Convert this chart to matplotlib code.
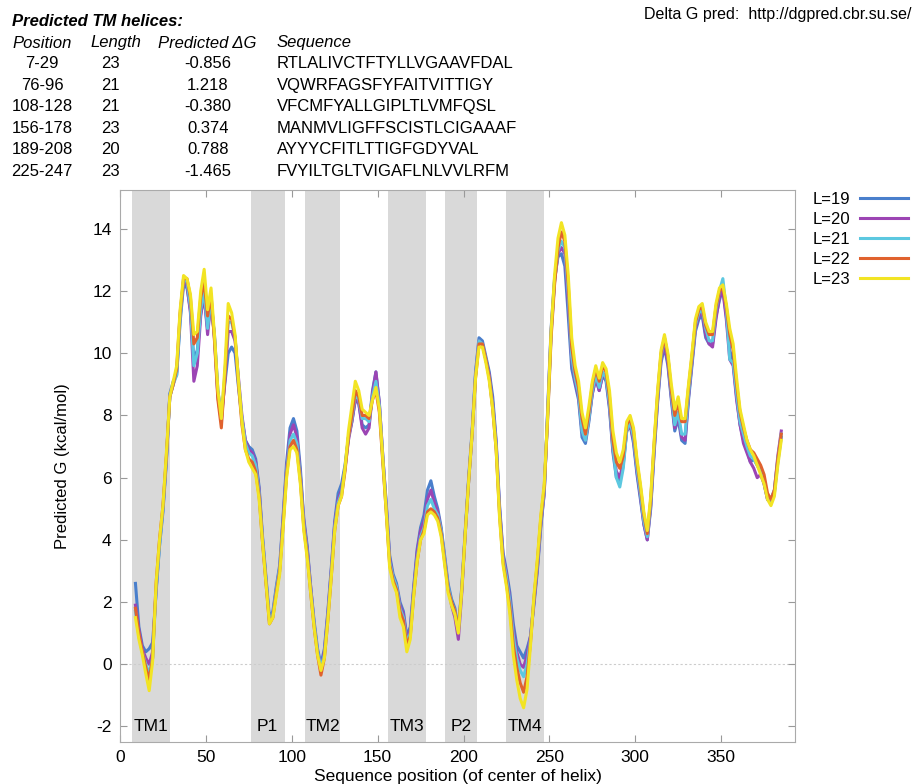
import numpy as np
import matplotlib
matplotlib.use("Agg")
import matplotlib.pyplot as plt

plt.rcParams['font.family'] = ['Liberation Sans', 'DejaVu Sans']
plt.rcParams['axes.unicode_minus'] = False

# helix table shown above the plot
positions = ["7-29", "76-96", "108-128", "156-178", "189-208", "225-247"]
lengths = ["23", "21", "21", "23", "20", "23"]
pred_dg = ["-0.856", "1.218", "-0.380", "0.374", "0.788", "-1.465"]
sequences = ["RTLALIVCTFTYLLVGAAVFDAL", "VQWRFAGSFYFAITVITTIGY", "VFCMFYALLGIPLTLVMFQSL",
             "MANMVLIGFFSCISTLCIGAAAF", "AYYYCFITLTTIGFGDYVAL", "FVYILTGLTVIGAFLNLVVLRFM"]

# shaded regions (start, end, label)
band_start = [7, 76, 108, 156, 189, 225]
band_end = [29, 96, 128, 178, 208, 247]
band_labels = ["TM1", "P1", "TM2", "TM3", "P2", "TM4"]

# sequence position of helix center
seq_pos = list(range(9, 386, 2))

g_L19 = [2.6, 1.2, 0.6, 0.4, 0.5, 0.7, 2.3, 3.8, 4.9, 6.5,
         8.7, 9.1, 9.3, 11.0, 12.2, 12.1, 11.4, 9.8, 10.1, 11.3,
         11.8, 10.8, 11.6, 10.6, 8.8, 8.0, 9.0, 10.0, 10.2, 10.0,
         8.9, 7.9, 7.2, 7.0, 6.9, 6.6, 5.7, 4.1, 2.8, 1.5,
         1.7, 2.5, 3.2, 4.8, 6.5, 7.6, 7.9, 7.5, 6.3, 4.7,
         3.8, 2.5, 1.4, 0.5, 0.0, 0.5, 1.7, 3.1, 4.6, 5.5,
         5.8, 6.4, 7.3, 7.8, 8.5, 8.4, 7.7, 7.6, 7.7, 8.8,
         9.4, 8.4, 6.7, 5.2, 3.5, 2.9, 2.6, 2.0, 1.7, 0.9,
         1.2, 2.5, 3.7, 4.4, 4.8, 5.6, 5.9, 5.4, 5.0, 4.4,
         3.5, 2.6, 2.1, 1.8, 1.1, 2.5, 4.3, 6.0, 7.5, 9.4,
         10.5, 10.4, 9.9, 9.4, 8.6, 7.2, 5.1, 3.6, 3.0, 2.3,
         1.3, 0.6, 0.4, 0.2, 0.5, 0.9, 1.9, 3.0, 4.4, 5.5,
         8.2, 10.8, 12.4, 13.1, 13.2, 12.8, 11.2, 9.5, 9.0, 8.5,
         7.3, 7.1, 7.8, 8.7, 9.2, 8.8, 9.3, 9.1, 8.2, 6.8,
         6.0, 5.9, 6.4, 7.5, 7.7, 7.1, 6.1, 5.3, 4.5, 4.0,
         5.0, 6.8, 8.4, 9.7, 10.2, 9.6, 8.5, 7.5, 7.9, 7.2,
         7.1, 8.5, 9.6, 10.7, 11.1, 11.2, 10.5, 10.3, 10.3, 11.2,
         11.7, 12.1, 11.2, 10.1, 9.7, 8.6, 7.7, 7.2, 6.9, 6.5,
         6.6, 6.4, 6.2, 5.8, 5.3, 5.2, 5.5, 6.5, 7.3]

g_L20 = [1.9, 1.1, 0.5, 0.2, 0.0, 0.4, 2.4, 3.9, 5.0, 6.6,
         8.6, 9.0, 9.4, 11.2, 12.3, 12.2, 11.3, 9.1, 9.6, 11.2,
         11.9, 10.6, 11.7, 10.5, 8.6, 7.8, 9.1, 10.7, 10.7, 10.4,
         9.2, 8.0, 7.2, 6.9, 6.8, 6.5, 5.6, 4.0, 2.7, 1.4,
         1.6, 2.4, 3.1, 4.7, 6.3, 7.4, 7.7, 7.3, 6.1, 4.6,
         3.7, 2.5, 1.3, 0.4, -0.1, 0.4, 1.6, 3.0, 4.5, 5.3,
         5.6, 6.3, 7.2, 7.8, 8.5, 8.4, 7.6, 7.4, 7.6, 8.7,
         9.4, 8.4, 6.7, 5.1, 3.4, 2.8, 2.5, 1.9, 1.6, 0.8,
         1.1, 2.4, 3.6, 4.3, 4.6, 5.3, 5.6, 5.2, 4.9, 4.3,
         3.4, 2.5, 1.9, 1.5, 0.8, 2.3, 4.2, 5.9, 7.4, 9.3,
         10.4, 10.3, 9.8, 9.3, 8.4, 7.1, 5.0, 3.5, 2.9, 2.1,
         1.1, 0.4, 0.0, -0.1, 0.3, 0.9, 2.0, 3.1, 4.5, 5.5,
         8.1, 10.7, 12.3, 13.2, 13.4, 13.2, 11.6, 9.8, 9.1, 8.6,
         7.5, 7.2, 7.9, 8.7, 9.2, 8.8, 9.3, 9.2, 8.3, 6.9,
         6.2, 6.0, 6.5, 7.5, 7.7, 7.2, 6.2, 5.4, 4.5, 4.0,
         5.1, 6.9, 8.5, 9.8, 10.3, 9.7, 8.6, 7.6, 8.0, 7.3,
         7.2, 8.6, 9.7, 10.8, 11.2, 11.3, 10.6, 10.3, 10.2, 11.1,
         11.8, 12.0, 11.1, 9.8, 9.6, 8.5, 7.7, 7.1, 6.8, 6.5,
         6.3, 6.0, 6.1, 5.8, 5.3, 5.3, 5.6, 6.7, 7.5]

g_L21 = [1.7, 0.9, 0.4, 0.0, -0.3, 0.2, 2.4, 3.8, 5.0, 6.6,
         8.6, 9.0, 9.3, 11.1, 12.4, 12.3, 11.5, 9.6, 10.0, 11.4,
         12.0, 10.8, 11.8, 10.5, 8.7, 7.9, 9.3, 11.0, 11.0, 10.5,
         9.1, 7.9, 7.1, 6.8, 6.7, 6.4, 5.5, 4.0, 2.7, 1.4,
         1.6, 2.4, 3.1, 4.6, 6.2, 7.2, 7.4, 7.1, 6.0, 4.5,
         3.6, 2.4, 1.3, 0.4, -0.1, 0.3, 1.5, 2.9, 4.4, 5.2,
         5.5, 6.3, 7.3, 7.9, 8.7, 8.5, 7.9, 7.9, 7.8, 8.6,
         9.1, 8.3, 6.6, 5.0, 3.3, 2.8, 2.5, 1.8, 1.5, 0.7,
         1.0, 2.3, 3.4, 4.1, 4.4, 5.1, 5.3, 5.0, 4.8, 4.3,
         3.4, 2.5, 2.0, 1.7, 1.1, 2.4, 4.2, 5.9, 7.4, 9.3,
         10.4, 10.3, 9.8, 9.2, 8.3, 7.0, 4.9, 3.4, 2.8, 2.0,
         0.9, 0.2, -0.2, -0.4, 0.0, 0.8, 2.1, 3.2, 4.6, 5.6,
         8.0, 10.6, 12.3, 13.3, 13.6, 13.4, 11.9, 9.9, 9.2, 8.7,
         7.5, 7.2, 7.9, 8.8, 9.3, 8.9, 9.4, 9.2, 8.4, 7.0,
         6.0, 5.7, 6.3, 7.5, 7.8, 7.3, 6.3, 5.5, 4.6, 4.1,
         5.2, 7.0, 8.6, 9.9, 10.5, 9.9, 8.7, 7.7, 8.1, 7.4,
         7.4, 8.7, 9.8, 10.9, 11.3, 11.4, 10.8, 10.4, 10.4, 11.4,
         12.0, 12.4, 11.4, 9.8, 9.7, 8.7, 7.8, 7.4, 7.0, 6.7,
         6.6, 6.4, 6.2, 5.9, 5.4, 5.3, 5.6, 6.6, 7.4]

g_L22 = [1.8, 1.0, 0.4, -0.1, -0.5, 0.2, 2.6, 4.0, 5.1, 6.7,
         8.6, 9.0, 9.5, 11.3, 12.4, 12.4, 11.8, 10.3, 10.5, 11.8,
         12.3, 11.2, 11.9, 10.4, 8.5, 7.6, 9.2, 11.2, 11.1, 10.5,
         9.0, 7.7, 6.9, 6.6, 6.5, 6.2, 5.4, 3.9, 2.6, 1.3,
         1.5, 2.3, 3.0, 4.5, 6.1, 7.0, 7.2, 6.9, 5.9, 4.4,
         3.5, 2.3, 1.2, 0.3, -0.35, 0.2, 1.4, 2.8, 4.3, 5.1,
         5.4, 6.2, 7.3, 8.0, 8.8, 8.6, 8.0, 8.0, 7.9, 8.5,
         8.8, 8.1, 6.5, 4.9, 3.2, 2.7, 2.4, 1.7, 1.4, 0.6,
         0.9, 2.2, 3.3, 4.0, 4.3, 4.9, 5.0, 4.9, 4.7, 4.2,
         3.3, 2.4, 2.0, 1.7, 1.1, 2.4, 4.2, 5.9, 7.4, 9.2,
         10.3, 10.3, 9.8, 9.2, 8.2, 6.9, 4.8, 3.3, 2.6, 1.8,
         0.6, -0.1, -0.6, -0.9, -0.4, 0.7, 2.1, 3.3, 4.7, 5.7,
         7.9, 10.5, 12.2, 13.4, 13.9, 13.6, 12.2, 10.2, 9.4, 8.9,
         7.9, 7.4, 8.1, 9.0, 9.5, 9.1, 9.6, 9.4, 8.6, 7.2,
         6.5, 6.3, 6.7, 7.7, 7.9, 7.5, 6.5, 5.7, 4.8, 4.2,
         5.3, 7.1, 8.7, 10.0, 10.5, 9.9, 8.8, 8.0, 8.4, 7.8,
         7.8, 8.9, 9.9, 11.0, 11.4, 11.5, 10.9, 10.6, 10.6, 11.5,
         12.0, 12.1, 11.5, 10.6, 10.1, 9.0, 8.1, 7.6, 7.2, 6.9,
         6.8, 6.6, 6.4, 6.1, 5.5, 5.3, 5.6, 6.6, 7.4]

g_L23 = [1.5, 0.8, 0.3, -0.3, -0.85, 0.1, 2.6, 4.0, 5.1, 6.8,
         8.6, 9.1, 9.6, 11.4, 12.5, 12.4, 11.9, 10.6, 10.7, 12.0,
         12.7, 11.4, 12.1, 10.6, 8.8, 7.9, 9.5, 11.6, 11.3, 10.6,
         9.1, 7.8, 6.9, 6.5, 6.3, 6.1, 5.3, 3.9, 2.6, 1.3,
         1.5, 2.2, 2.9, 4.4, 6.0, 6.9, 7.0, 6.8, 5.8, 4.3,
         3.4, 2.3, 1.2, 0.3, -0.2, 0.2, 1.4, 2.8, 4.3, 5.1,
         5.4, 6.3, 7.5, 8.3, 9.1, 8.8, 8.2, 8.1, 8.0, 8.5,
         8.9, 8.2, 6.6, 4.9, 3.1, 2.6, 2.3, 1.5, 1.2, 0.4,
         0.8, 2.2, 3.3, 4.0, 4.2, 4.8, 4.9, 4.8, 4.6, 4.1,
         3.2, 2.3, 1.9, 1.6, 1.0, 2.4, 4.2, 5.9, 7.4, 9.2,
         10.2, 10.2, 9.7, 9.1, 8.2, 6.9, 4.7, 3.2, 2.5, 1.6,
         0.3, -0.5, -1.1, -1.4, -0.8, 0.6, 2.2, 3.4, 4.8, 5.8,
         8.0, 10.7, 12.5, 13.7, 14.2, 13.8, 12.5, 10.5, 9.6, 9.1,
         8.1, 7.6, 8.3, 9.1, 9.6, 9.2, 9.7, 9.5, 8.8, 7.5,
         6.8, 6.5, 6.9, 7.8, 8.0, 7.6, 6.6, 5.8, 4.9, 4.3,
         5.4, 7.2, 8.8, 10.1, 10.6, 10.0, 9.0, 8.2, 8.6, 7.9,
         7.9, 9.0, 10.0, 11.1, 11.5, 11.6, 11.0, 10.7, 10.7, 11.6,
         12.1, 12.2, 11.6, 10.8, 10.3, 9.2, 8.2, 7.7, 7.2, 6.9,
         6.7, 6.4, 6.1, 5.8, 5.3, 5.1, 5.4, 6.4, 7.2]

series = [("L=19", g_L19, "#4a7fcc"),
          ("L=20", g_L20, "#9c45b4"),
          ("L=21", g_L21, "#5cc8e0"),
          ("L=22", g_L22, "#e0622e"),
          ("L=23", g_L23, "#f2e424")]

fig = plt.figure(figsize=(9.14, 7.84), dpi=100)
W, H = 914.0, 784.0
ax = fig.add_axes([120 / W, 1 - 742 / H, (795 - 120) / W, (742 - 190) / H])

for s, e, lab in zip(band_start, band_end, band_labels):
    ax.axvspan(s, e, color="#d9d9d9", lw=0, zorder=0)
    ax.text((s + e) / 2, -2, lab, ha="center", va="center", fontsize=12.5, zorder=5)

ax.axhline(0, color="#cccccc", lw=0.8, ls=(0, (2, 2)), zorder=1)

for name, vals, col in series:
    ax.plot(seq_pos, vals, color=col, lw=2.2, label=name, zorder=3)

ax.set_xlim(0, 393)
ax.set_ylim(-2.5, 15.25)
ax.set_xticks(range(0, 351, 50))
ax.set_yticks(range(-2, 15, 2))
ax.tick_params(direction="in", top=True, right=True, length=5, color="#999999",
               labelsize=12.5, pad=6)
for sp in ax.spines.values():
    sp.set_color("#aaaaaa")
ax.set_ylabel("Predicted G (kcal/mol)", fontsize=12, labelpad=16)
ax.set_xlabel("Sequence position (of center of helix)", fontsize=12.5, labelpad=3)

leg = ax.legend(loc="upper right", bbox_to_anchor=(915 / W, 1 - 185 / H),
                bbox_transform=fig.transFigure, markerfirst=False,
                frameon=False, fontsize=12, handlelength=2.9, labelspacing=0.3,
                handletextpad=0.6, borderaxespad=0)

# header text
fs = 12
fig.text(12 / W, 1 - 22 / H, "Predicted TM helices:", fontsize=fs, fontweight="bold",
         fontstyle="italic", va="center")
for label, x in [("Position", 12), ("Length", 90), ("Predicted \u0394G", 158), ("Sequence", 277)]:
    fig.text(x / W, 1 - 43 / H, label, fontsize=fs, fontstyle="italic", va="center")
for i in range(len(positions)):
    y = 1 - (64 + i * 21.4) / H
    fig.text(42 / W, y, positions[i], fontsize=fs, ha="center", va="center")
    fig.text(110 / W, y, lengths[i], fontsize=fs, ha="center", va="center")
    fig.text(208 / W, y, pred_dg[i], fontsize=fs, ha="center", va="center")
    fig.text(277 / W, y, sequences[i], fontsize=fs, ha="left", va="center")

fig.text(911 / W, 1 - 15 / H, "Delta G pred:  http://dgpred.cbr.su.se/", fontsize=11.5,
         ha="right", va="center")

fig.savefig("out.png", dpi=100)
